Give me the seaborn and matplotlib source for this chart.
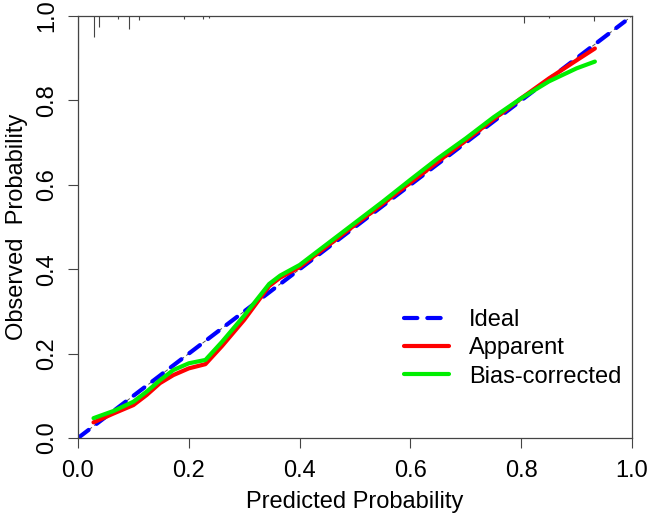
import matplotlib
matplotlib.use("Agg")
import matplotlib.pyplot as plt
import seaborn as sns
import pandas as pd

# calibration curves
pred = [0.028, 0.064, 0.10, 0.124, 0.148, 0.172, 0.20, 0.23, 0.26, 0.30, 0.345, 0.365,
        0.40, 0.45, 0.50, 0.55, 0.60, 0.65, 0.70, 0.75, 0.80, 0.85, 0.90, 0.933]
apparent = [0.037, 0.058, 0.078, 0.102, 0.13, 0.149, 0.165, 0.175, 0.218, 0.28, 0.36, 0.38,
            0.405, 0.455, 0.505, 0.555, 0.605, 0.655, 0.705, 0.755, 0.805, 0.852, 0.895, 0.923]
bias_corrected = [0.047, 0.064, 0.086, 0.11, 0.137, 0.161, 0.177, 0.185, 0.228, 0.29, 0.365, 0.385,
                  0.41, 0.46, 0.51, 0.56, 0.612, 0.663, 0.71, 0.76, 0.805, 0.845, 0.876, 0.892]

ideal_x = [0.0, 0.987]
ideal_y = [0.0, 0.987]

# spike histogram of predictions along the top
rug_x = [0.0, 0.028, 0.038, 0.073, 0.092, 0.110, 0.191, 0.226, 0.236, 0.805, 0.85, 0.931]
rug_h = [0.102, 0.05, 0.026, 0.006, 0.031, 0.01, 0.007, 0.007, 0.005, 0.017, 0.005, 0.011]

df = pd.DataFrame({
    "pred": pred * 2,
    "obs": apparent + bias_corrected,
    "curve": ["Apparent"] * len(pred) + ["Bias-corrected"] * len(pred),
})

sns.set_style("ticks")
plt.rcParams["font.family"] = ["Liberation Sans", "DejaVu Sans"]
plt.rcParams["text.color"] = "black"
plt.rcParams["axes.labelcolor"] = "black"
plt.rcParams["xtick.labelcolor"] = "black"
plt.rcParams["ytick.labelcolor"] = "black"

fig = plt.figure(figsize=(6.48, 5.15), dpi=100)
ax = fig.add_axes([78 / 648, 77 / 515, 554 / 648, 422 / 515])

# thin reference diagonal underneath
ax.plot([0, 1], [0, 1], color="#555555", lw=0.7, ls=(0, (4, 3)), zorder=1)

sns.lineplot(x=ideal_x, y=ideal_y, ax=ax, color="#0000FF", lw=3.0, label="Ideal",
             dashes=False, zorder=2)
ax.lines[-1].set_linestyle((0, (3.2, 2.4)))
ax.lines[-1].set_dash_capstyle("round")

sns.lineplot(data=df, x="pred", y="obs", hue="curve", sort=False, ax=ax,
             palette={"Apparent": "#FF0000", "Bias-corrected": "#00EE00"},
             lw=3.0, zorder=3)

ax.vlines(rug_x, [1 - h for h in rug_h], 1, color="#444444", lw=0.8, zorder=1)

ax.set_xlim(0, 1)
ax.set_ylim(0, 1)
ticks = [0.0, 0.2, 0.4, 0.6, 0.8, 1.0]
ax.set_xticks(ticks)
ax.set_yticks(ticks)
ax.set_xticklabels([f"{t:.1f}" for t in ticks])
ax.set_yticklabels([f"{t:.1f}" for t in ticks], rotation=90, va="center")
ax.tick_params(length=7, width=0.8, color="#444444", labelsize=17)
ax.tick_params(axis="x", pad=9)
ax.tick_params(axis="y", pad=7)

for s in ax.spines.values():
    s.set_color("#444444")
    s.set_linewidth(0.9)

ax.set_xlabel("Predicted Probability", fontsize=17, labelpad=6)
ax.set_ylabel("Observed  Probability", fontsize=17, labelpad=6)

h, l = ax.get_legend_handles_labels()
ax.legend(h, l, loc="upper left", bbox_to_anchor=(0.588, 0.305), frameon=False,
          fontsize=17, handlelength=1.9, handletextpad=0.85, labelspacing=0.26,
          borderpad=0, borderaxespad=0)

fig.savefig("out.png", dpi=100)
